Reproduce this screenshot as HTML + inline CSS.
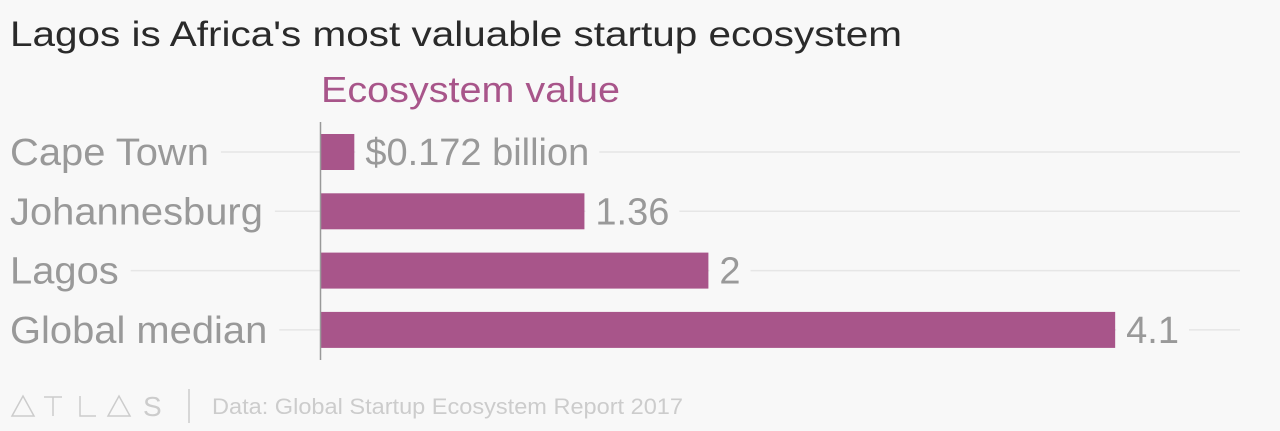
<!DOCTYPE html>
<html><head><meta charset="utf-8"><style>
body{margin:0;background:#f8f8f8;width:1280px;height:426px;overflow:hidden;font-family:"Liberation Sans",sans-serif}
</style></head><body>
<svg width="1280" height="426">
<text x="10" y="46" font-size="35" fill="#2a2a2a" textLength="892" lengthAdjust="spacingAndGlyphs">Lagos is Africa's most valuable startup ecosystem</text>
<text x="321" y="102" font-size="36" fill="#a8558a" textLength="299" lengthAdjust="spacingAndGlyphs">Ecosystem value</text>
<g id="g"></g>
<line x1="320.5" y1="122" x2="320.5" y2="360" stroke="#999" stroke-width="1.5"/>
<g fill="none" stroke="#ccc" stroke-width="1.5">
<path d="M12 416 L23 396 L34 416 Z"/><path d="M44 397 H62 M53 397 V416"/><path d="M80 396 V416 H96"/><path d="M108 416 L119 396 L130 416 Z"/>
<text x="143" y="416" font-size="28" fill="#ccc" stroke="none">S</text>
<line x1="189" y1="389" x2="189" y2="423"/>
</g>
<text x="212" y="414" font-size="22" fill="#ccc" textLength="471" lengthAdjust="spacingAndGlyphs">Data: Global Startup Ecosystem Report 2017</text>
</svg>
<script>
const categories=["Cape Town","Johannesburg","Lagos","Global median"];
const values=[0.172,1.36,2,4.1];
const valueLabels=["$0.172 billion","1.36","2","4.1"];
const g=document.getElementById('g');
const x0=321,scale=193.7;
const xs=v=>x0+v*scale;
const yc=i=>152+i*59.3;
const ns="http://www.w3.org/2000/svg";
function mk(t,a){const e=document.createElementNS(ns,t);for(const k in a)e.setAttribute(k,a[k]);g.appendChild(e);return e;}
categories.forEach((c,i)=>{
  const y=yc(i);
  const lab=mk('text',{x:10,y:y+13,'font-size':38,fill:'#999'});lab.textContent=c;
  
  
  const w=lab.getComputedTextLength()*1.05;
  lab.setAttribute('textLength',w);
  lab.setAttribute('lengthAdjust','spacingAndGlyphs');
  const gl=mk('line',{x1:10+w+12,x2:1240,y1:y,y2:y,stroke:'#e6e6e6','stroke-width':1.5});
  
  
  const b=mk('rect',{x:x0,y:y-18,width:xs(values[i])-x0,height:36,fill:'#a8558a'});
  
  
  const bx=xs(values[i]);
  const vl=mk('text',{x:bx+11,y:y+13,'font-size':38,fill:'#999'});vl.textContent=valueLabels[i];
  const bg=mk('rect',{x:bx+1,y:y-3,width:vl.getComputedTextLength()+20,height:6,fill:'#f8f8f8'});
  g.insertBefore(bg,vl);
  
  
});
</script>
</body></html>
